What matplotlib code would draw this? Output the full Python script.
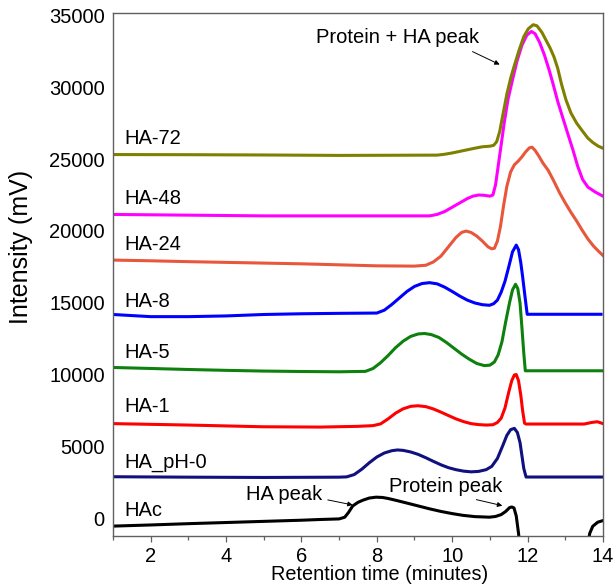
import numpy as np
import matplotlib
matplotlib.use("Agg")
import matplotlib.pyplot as plt

plt.rcParams['font.family'] = ['Liberation Sans', 'DejaVu Sans']

# ---- data (x = minutes, y = mV) ----
hac_x = [1, 2, 3, 4, 5, 6, 6.5, 7.0, 7.15, 7.25, 7.36, 7.5, 7.63, 7.8, 7.98, 8.15, 8.3, 8.51, 8.8, 9.1, 9.4,
         9.7, 10.0, 10.28, 10.6, 10.99, 11.15, 11.3, 11.42, 11.52, 11.58, 11.64, 11.7, 11.76, 11.8, np.nan,
         13.58, 13.65, 13.73, 13.86, 14.0]
hac_y = [-500, -420, -330, -250, -170, -90, -40, 0, 120, 450, 900, 1150, 1300, 1450, 1510, 1490, 1420, 1290,
         1100, 900, 700, 520, 370, 250, 160, 120, 170, 300, 520, 780, 830, 760, 200, -1000, -2000, np.nan,
         -2000, -1000, -510, -230, -115]

ph0_x = [1, 3, 5, 7, 7.2, 7.4, 7.6, 7.8, 8.0, 8.2, 8.4, 8.55, 8.7, 8.9, 9.1, 9.3, 9.5, 9.7, 9.9, 10.1, 10.3,
         10.5, 10.7, 10.9, 11.05, 11.2, 11.34, 11.45, 11.55, 11.65, 11.73, 11.8, 11.85, 11.9, 11.96, 14]
ph0_y = [2930, 2900, 2880, 2900, 2920, 3080, 3450, 3900, 4300, 4580, 4740, 4790, 4760, 4650, 4480, 4250, 4000,
         3760, 3560, 3420, 3320, 3270, 3300, 3420, 3650, 4200, 5080, 5800, 6200, 6290, 6000, 5300, 4400, 3500,
         2910, 2910]

ha1_x = [1, 3, 5, 6.5, 7.5, 7.9, 8.1, 8.3, 8.5, 8.7, 8.9, 9.09, 9.3, 9.5, 9.7, 9.9, 10.1, 10.3, 10.5, 10.7,
         10.9, 11.08, 11.2, 11.3, 11.4, 11.5, 11.58, 11.65, 11.7, 11.76, 11.82, 11.87, 11.92, 11.96, 13.5,
         13.7, 13.85, 14]
ha1_y = [6620, 6520, 6400, 6380, 6430, 6480, 6600, 6950, 7350, 7650, 7820, 7860, 7800, 7640, 7420, 7180, 6950,
         6760, 6620, 6550, 6520, 6540, 6700, 7000, 7700, 8800, 9600, 10000, 10030, 9600, 8600, 7500, 6650,
         6590, 6590, 6700, 6750, 6620]

ha5_x = [1, 2, 3, 4, 5, 6, 7, 7.7, 7.9, 8.1, 8.3, 8.5, 8.7, 8.9, 9.1, 9.27, 9.45, 9.65, 9.85, 10.05, 10.25,
         10.45, 10.65, 10.85, 11.0, 11.12, 11.22, 11.32, 11.42, 11.52, 11.6, 11.68, 11.74, 11.8, 11.85, 11.9,
         11.94, 14]
ha5_y = [10520, 10450, 10380, 10320, 10270, 10240, 10220, 10250, 10450, 10850, 11350, 11900, 12350, 12680,
         12850, 12880, 12800, 12600, 12250, 11850, 11450, 11100, 10800, 10650, 10680, 10900, 11400, 12300,
         13700, 15000, 15900, 16300, 16000, 15000, 13300, 11500, 10290, 10290]

ha8_x = [1, 2, 3, 4, 5, 6, 7, 8.0, 8.2, 8.4, 8.6, 8.8, 9.0, 9.2, 9.4, 9.6, 9.8, 10.0, 10.2, 10.4, 10.6, 10.8,
         10.99, 11.1, 11.2, 11.3, 11.4, 11.5, 11.6, 11.7, 11.76, 11.82, 11.87, 11.92, 11.99, 13.95]
ha8_y = [14200, 14050, 14050, 14100, 14200, 14250, 14280, 14300, 14500, 14900, 15350, 15800, 16150, 16350,
         16410, 16330, 16100, 15800, 15480, 15200, 15000, 14880, 14840, 14950, 15200, 15750, 16500, 17500,
         18550, 19020, 18700, 17800, 16800, 15700, 14215, 14215]

ha24_x = [1, 2, 3, 4, 5, 6, 7, 8, 9.0, 9.3, 9.5, 9.7, 9.9, 10.1, 10.25, 10.37, 10.5, 10.65, 10.8, 10.95, 11.05,
          11.12, 11.2, 11.28, 11.36, 11.45, 11.55, 11.65, 11.75, 11.85, 11.95, 12.05, 12.12, 12.2, 12.3,
          12.4, 12.55, 12.7, 12.85, 13.0, 13.15, 13.3, 13.45, 13.6, 13.75, 13.9, 14]
ha24_y = [17980, 17930, 17870, 17820, 17770, 17720, 17650, 17580, 17560, 17620, 17850, 18250, 18900, 19550,
          19900, 19995, 19900, 19650, 19300, 18900, 18760, 18800, 19300, 20300, 21700, 23100, 24100, 24600,
          24850, 25150, 25500, 25780, 25820, 25600, 25200, 24750, 24200, 23450, 22650, 21950, 21300, 20700,
          20050, 19450, 18950, 18550, 18300]

ha48_x = [1, 3, 5, 7, 9.4, 9.6, 9.8, 10.0, 10.2, 10.4, 10.55, 10.7, 10.85, 11.0, 11.08, 11.15, 11.22, 11.3,
          11.38, 11.48, 11.6, 11.72, 11.85, 11.98, 12.1, 12.2, 12.32, 12.45, 12.57, 12.67, 12.8, 12.93,
          13.05, 13.2, 13.33, 13.46, 13.6, 13.8, 14]
ha48_y = [21150, 21100, 21050, 21050, 21050, 21150, 21350, 21650, 21950, 22250, 22420, 22500, 22480, 22420,
          22500, 23200, 24500, 26000, 27500, 29130, 30500, 31800, 32900, 33600, 33860, 33700, 33100, 32200,
          31200, 30280, 29000, 27900, 26900, 25660, 24500, 23580, 23050, 22700, 22420]

ha72_x = [1, 3, 5, 7, 9.6, 9.8, 10.0, 10.2, 10.4, 10.6, 10.8, 11.0, 11.1, 11.18, 11.26, 11.34, 11.45, 11.55,
          11.65, 11.78, 11.9, 12.02, 12.15, 12.25, 12.38, 12.5, 12.6, 12.7, 12.8, 12.9, 13.02, 13.15, 13.3,
          13.46, 13.6, 13.73, 13.87, 14]
ha72_y = [25310, 25300, 25280, 25250, 25270, 25330, 25420, 25530, 25640, 25750, 25850, 25890, 25950, 26200,
          26900, 28000, 29500, 30600, 31500, 32600, 33500, 34050, 34330, 34250, 33800, 33200, 32700, 32100,
          31300, 30200, 29100, 28200, 27500, 26930, 26450, 26150, 25900, 25750]

names = ['HAc', 'HA_pH-0', 'HA-1', 'HA-5', 'HA-8', 'HA-24', 'HA-48', 'HA-72']
xs = [hac_x, ph0_x, ha1_x, ha5_x, ha8_x, ha24_x, ha48_x, ha72_x]
ys = [hac_y, ph0_y, ha1_y, ha5_y, ha8_y, ha24_y, ha48_y, ha72_y]
colors = ['#000000', '#10107e', '#ff0000', '#0e800e', '#0000ff', '#e8563c', '#ff00ff', '#808000']
label_y = [550, 3950, 7840, 11580, 15120, 19070, 22260, 26420]

fig = plt.figure(figsize=(6.14, 5.86), dpi=100)
ax = fig.add_axes([0.184, 0.085, 0.798, 0.893])

for x, y, c in zip(xs, ys, colors):
    ax.plot(x, y, color=c, lw=2.2, solid_joinstyle='round')

for n, ly in zip(names, label_y):
    ax.text(1.31, ly, n, fontsize=14.5, va='center', ha='left')

arrow = dict(arrowstyle='-|>', lw=0.7, color='black', mutation_scale=7, shrinkA=0, shrinkB=0)
ax.text(8.54, 33430, 'Protein + HA peak', fontsize=14.5, ha='center', va='center')
ax.annotate('', xy=(11.26, 31560), xytext=(10.54, 32460), arrowprops=arrow)
ax.text(5.55, 1730, 'HA peak', fontsize=14.5, ha='center', va='center')
ax.annotate('', xy=(7.36, 970), xytext=(6.70, 1320), arrowprops=arrow)
ax.text(9.82, 2270, 'Protein peak', fontsize=14.5, ha='center', va='center')
ax.annotate('', xy=(11.33, 920), xytext=(10.64, 1340), arrowprops=arrow)

ax.set_xlim(1, 14)
ax.set_ylim(-1200, 35150)
ax.set_xticks(range(2, 15, 2))
ax.set_xticks(range(1, 15, 2), minor=True)
ax.set_yticks(range(0, 35001, 5000))
ax.tick_params(axis='x', which='major', direction='out', length=4, width=0.9, colors='#606060',
               labelcolor='black', labelsize=14.5, pad=4)
ax.tick_params(axis='x', which='minor', direction='out', length=3, width=0.9, colors='#606060')
ax.tick_params(axis='y', length=0, labelsize=14.5, pad=6)
for s in ax.spines.values():
    s.set_color('#606060')
    s.set_linewidth(1.0)

ax.set_xlabel('Retention time (minutes)', fontsize=14.3)
ax.xaxis.set_label_coords(0.544, -0.056)
ax.set_ylabel('Intensity (mV)', fontsize=18)
ax.yaxis.set_label_coords(-0.164, 0.553)

fig.savefig('out.png', dpi=100)
